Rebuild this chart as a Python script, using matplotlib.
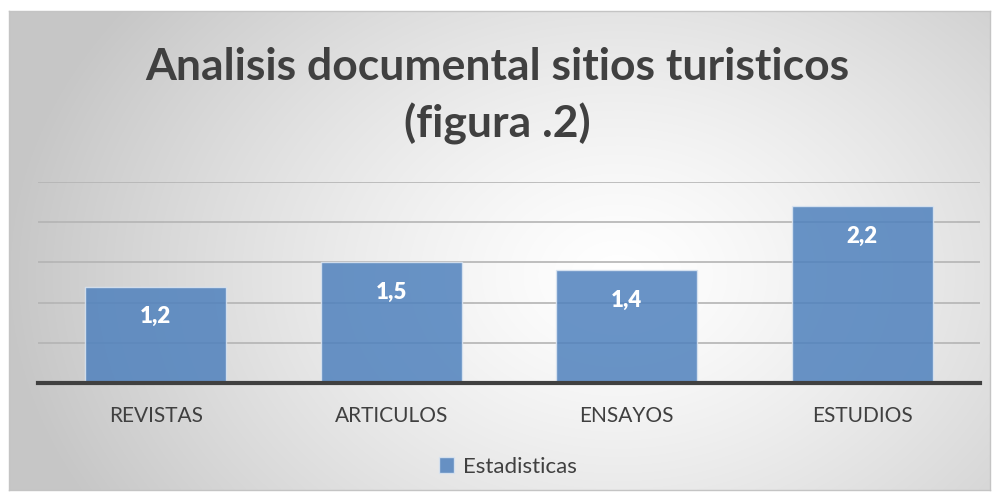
import numpy as np
import matplotlib
matplotlib.use("Agg")
import matplotlib.pyplot as plt

categories = ["REVISTAS", "ARTICULOS", "ENSAYOS", "ESTUDIOS"]
values = [1.2, 1.5, 1.4, 2.2]
labels = ["1,2", "1,5", "1,4", "2,2"]
series_name = "Estadisticas"
title = "Analisis documental sitios turisticos\n(figura .2)"

W, H = 995, 499
fig = plt.figure(figsize=(W/100, H/100), dpi=100)
fig.patch.set_facecolor("white")

# background gradient inside the chart frame
bg = fig.add_axes([9/W, 1-490/H, (990-9)/W, (490-11)/H])
ny, nx = 240, 490
yy, xx = np.mgrid[0:ny, 0:nx]
cx, cy = nx*0.62, ny*0.55
d = np.sqrt(((xx-cx)/(nx*0.62))**2 + ((yy-cy)/(ny*0.95))**2)
d = np.clip(d, 0, 1)
v = 1.0 - 0.22*d**1.3
img = np.dstack([v, v, v])
bg.imshow(img, aspect="auto", extent=[0, 1, 0, 1], interpolation="bilinear")
bg.set_xlim(0, 1); bg.set_ylim(0, 1)
for s in bg.spines.values():
    s.set_color("#c4c4c4"); s.set_linewidth(1)
bg.set_xticks([]); bg.set_yticks([])
bg.set_zorder(0)

ax = fig.add_axes([38/W, 1-383/H, (980-38)/W, (383-182)/H])
ax.set_zorder(1)
ax.patch.set_alpha(0)
x = np.arange(len(categories))
ax.set_xlim(-0.5, len(categories)-0.5)
ax.set_ylim(0, 2.5)
ax.set_yticks(np.arange(0, 2.51, 0.5))
ax.yaxis.grid(True, color="#b4b4b4", linewidth=1.2)
ax.set_axisbelow(True)
ax.tick_params(axis="y", left=False, labelleft=False)
ax.tick_params(axis="x", bottom=False, pad=13)
for s in ["top", "right", "left"]:
    ax.spines[s].set_visible(False)
ax.spines["bottom"].set_color("#404040")
ax.spines["bottom"].set_linewidth(3)

bars = ax.bar(x, values, width=0.6, color="#4f81bd", alpha=0.85,
              edgecolor="#dce6f2", linewidth=1, label=series_name, zorder=2)
ax.set_xticks(x)
ax.set_xticklabels(categories, fontsize=15, color="#404040", family="Lato")

for xi, vi, lb in zip(x, values, labels):
    ax.text(xi, vi - 0.24, lb, ha="center", va="top", color="white",
            fontsize=16, fontweight="heavy", family="Lato", zorder=3)

fig.text(0.5, 1-96/H, title, ha="center", va="center", fontsize=32,
         fontweight="bold", color="#404040", family="Lato", linespacing=1.45)

leg = fig.legend(handles=[bars], labels=[series_name], loc="center",
                 bbox_to_anchor=(508/W, 1-467/H), frameon=False,
                 prop={"family": "Lato", "size": 16}, handlelength=0.7,
                 handleheight=0.7, handletextpad=0.4)
for t in leg.get_texts():
    t.set_color("#404040")

fig.savefig("out.png", dpi=100)
